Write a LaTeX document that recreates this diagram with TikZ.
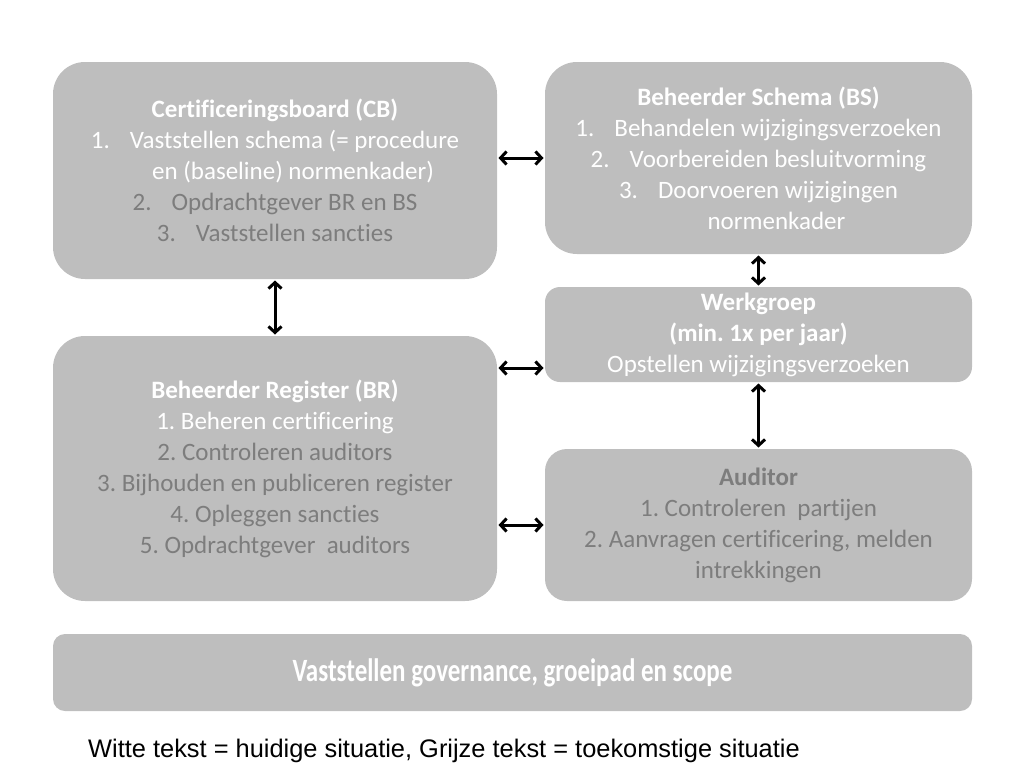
\documentclass[tikz,border=0pt]{standalone}
\usepackage{fontspec}
\setmainfont{Carlito}[Ligatures=CommonOff]
\newfontfamily\legendfont{Liberation Sans}
\usetikzlibrary{arrows.meta, positioning}

\definecolor{vakgrijs}{RGB}{190,190,190}
\definecolor{tekstgrijs}{RGB}{125,125,125}

\tikzset{
  box/.style={draw=none, fill=vakgrijs, rounded corners=32pt, inner sep=0pt, outer sep=0pt,
    align=center, text=white, font=\fontsize{25}{31}\selectfont},
  dbl/.style={line width=3pt, black, {Straight Barb[length=6pt,width=13pt]}-{Straight Barb[length=6pt,width=13pt]}, shorten <=1.5pt, shorten >=1.5pt}
}
\newcommand{\gr}[1]{\textcolor{tekstgrijs}{#1}}
\frenchspacing

\begin{document}
\begin{tikzpicture}[x=1pt, y=-1pt]
\useasboundingbox (0,0) rectangle (1024,768);

\node (CB) [box, minimum width=444pt, minimum height=217pt] at (275,170.5)
  {\textbf{Certificeringsboard (CB)}\\
   1.\hspace{20pt}Vaststellen schema (= procedure\\
   \hspace*{36pt}en (baseline) normenkader)\\
   \gr{2.\hspace{20pt}Opdrachtgever BR en BS}\\
   \gr{3.\hspace{20pt}Vaststellen sancties}};
\node (BS) [box, minimum width=427pt, minimum height=192pt] at (758.5,158)
  {\textbf{Beheerder Schema (BS)}\\
   1.\hspace{20pt}Behandelen wijzigingsverzoeken\\
   2.\hspace{20pt}Voorbereiden besluitvorming\\
   3.\hspace{20pt}Doorvoeren wijzigingen\\
   \hspace*{36pt}normenkader};
\node (WG) [box, rounded corners=15pt, minimum width=427pt, minimum height=95pt] at (758.5,334.5)
  {\textbf{Werkgroep}\\
   \textbf{(min. 1x per jaar)}\\
   Opstellen wijzigingsverzoeken};
\node (BR) [box, minimum width=444pt, minimum height=265pt] at (275,468.5)
  {\textbf{Beheerder Register (BR)}\\
   1. Beheren certificering\\
   \gr{2. Controleren auditors}\\
   \gr{3. Bijhouden en publiceren register}\\
   \gr{4. Opleggen sancties}\\
   \gr{5. Opdrachtgever\ \ auditors}};
\node (AU) [box, rounded corners=22pt, minimum width=427pt, minimum height=152pt] at (758.5,525)
  {\gr{\textbf{Auditor}}\\
   \gr{1. Controleren\ \ partijen}\\
   \gr{2. Aanvragen certificering, melden}\\
   \gr{intrekkingen}};
\node (GOV) [box, rounded corners=12pt, minimum width=919pt, minimum height=77pt] at (512.5,672.5)
  {\scalebox{1}[1.3]{\textbf{Vaststellen governance, groeipad en scope}}};
\node (LEG) [anchor=west, inner sep=0pt, font=\legendfont\fontsize{25.4}{30}\selectfont] at (88,751)
  {Witte tekst = huidige situatie, Grijze tekst = toekomstige situatie};

\coordinate (WGL) at ([yshift=-33.5pt]WG.west);

%verbindingen
\draw [dbl] (CB.east |- BS.west) -- (BS.west);
\draw [dbl] (CB.south) -- (BR.north);
\draw [dbl] (BS.south) -- (WG.north);
\draw [dbl] (WG.south) -- (AU.north);
\draw [dbl] (BR.east |- WGL) -- (WGL);
\draw [dbl] (BR.east |- AU.west) -- (AU.west);

\end{tikzpicture}
\end{document}
